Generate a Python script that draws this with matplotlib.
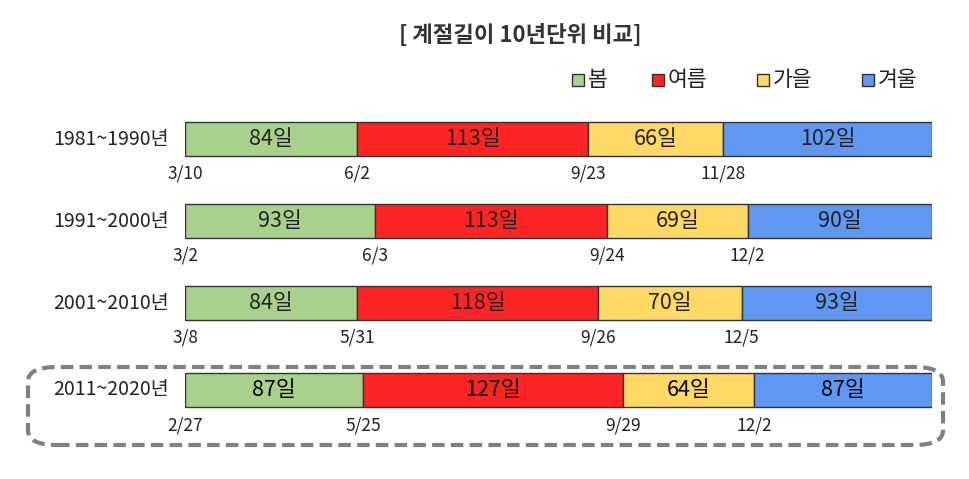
import matplotlib
matplotlib.use("Agg")
import matplotlib.pyplot as plt
from matplotlib.patches import FancyBboxPatch, Rectangle

plt.rcParams['font.family'] = ['Noto Sans CJK KR', 'DejaVu Sans']

periods = ["1981~1990년", "1991~2000년", "2001~2010년", "2011~2020년"]
seasons = ["봄", "여름", "가을", "겨울"]
days = [
    [84, 113, 66, 102],
    [93, 113, 69, 90],
    [84, 118, 70, 93],
    [87, 127, 64, 87],
]
start_dates = [
    ["3/10", "6/2", "9/23", "11/28"],
    ["3/2", "6/3", "9/24", "12/2"],
    ["3/8", "5/31", "9/26", "12/5"],
    ["2/27", "5/25", "9/29", "12/2"],
]
colors = ["#a9d18e", "#ff2424", "#ffd966", "#5f97f3"]

fig = plt.figure(figsize=(9.7, 4.79), dpi=100)
ax = fig.add_axes([185 / 970, 0, 747 / 970, 1])
ax.set_xlim(0, 365)
ax.set_ylim(479, 0)
ax.axis("off")

row_y = [139, 221, 303, 390]
h = 34
for r, (vals, dates) in enumerate(zip(days, start_dates)):
    y = row_y[r]
    last = r == 3
    left = 0
    for i, v in enumerate(vals):
        ax.barh(y, v, left=left, height=h, color=colors[i], edgecolor="#333333", linewidth=1)
        ax.text(left + v / 2, y, f"{v}일", ha="center", va="center", fontsize=15.5,
                color="black" if last else "#222222", fontweight="medium" if last else "normal")
        ax.text(left, y + h / 2 + 18, dates[i], ha="center", va="center", fontsize=12.5, color="#222222")
        left += v
    ax.text(-8, y, periods[r], ha="right", va="center", fontsize=14, color="#222222")

# title
fig.text(520 / 970, 1 - 35 / 479, "[ 계절길이 10년단위 비교]", ha="center", va="center",
         fontsize=16, fontweight="bold", color="#333333")

# legend
lx = [572, 652, 757, 862]
for x, s, c in zip(lx, seasons, colors):
    fig.patches.append(Rectangle((x / 970, 1 - 86 / 479), 12 / 970, 12 / 479,
                                 transform=fig.transFigure, facecolor=c, edgecolor="#333333", linewidth=1))
    fig.text((x + 16) / 970, 1 - 80 / 479, s, ha="left", va="center", fontsize=15.5, color="#222222")

# dashed box around last row
box = FancyBboxPatch((28 / 970, 1 - 445 / 479), 915 / 970, 78 / 479,
                     boxstyle="round,pad=0,rounding_size=0.03", transform=fig.transFigure,
                     facecolor="none", edgecolor="#808080", linewidth=3, linestyle=(0, (3, 1.5)))
fig.patches.append(box)

fig.savefig("out.png", dpi=100)
